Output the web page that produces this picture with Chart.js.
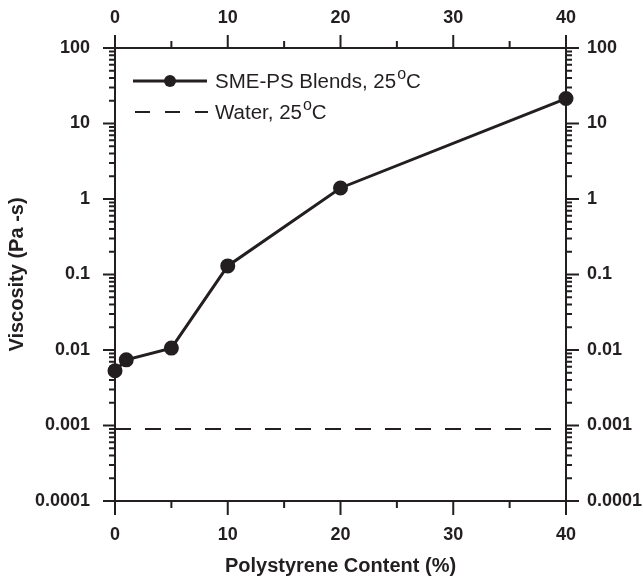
<!DOCTYPE html>
<html>
<head>
<meta charset="utf-8">
<script src="https://cdn.jsdelivr.net/npm/chart.js@4.4.0/dist/chart.umd.min.js"></script>
<style>
  html, body { margin: 0; padding: 0; background: #fff; }
  #wrap { width: 643px; height: 581px; }
</style>
</head>
<body>
<div id="wrap"><canvas id="viscChart" width="643" height="581"></canvas></div>
<script>
// data
const psContent = [0, 1, 5, 10, 20, 40];
const psViscosity = [0.0053, 0.0074, 0.0106, 0.13, 1.4, 21.4];
const waterContent = [0, 40];
const waterViscosity = [0.0009, 0.0009];

const xTicks = [0, 10, 20, 30, 40];
const xMinorTicks = [5, 15, 25, 35];
const yTicks = [0.0001, 0.001, 0.01, 0.1, 1, 10, 100];
const yTickLabels = ['0.0001', '0.001', '0.01', '0.1', '1', '10', '100'];

const INK = '#231f20';
const tickFont = { family: 'Liberation Sans, Arial, sans-serif', size: 18, weight: 'bold' };
const titleFont = { family: 'Liberation Sans, Arial, sans-serif', size: 20, weight: 'bold' };

function toPoints(xs, ys) {
    return xs.map((x, i) => ({ x: x, y: ys[i] }));
}

function fixedSize(w, h) {
    return function(scale) {
        if (w !== null) scale.width = w;
        if (h !== null) scale.height = h;
    };
}

function decadeTicks(scale) {
    scale.ticks = yTicks.map(v => ({ value: v }));
}

function yLabel(value) {
    const i = yTicks.findIndex(v => Math.abs(Math.log10(v) - Math.log10(value)) < 1e-6);
    return i >= 0 ? yTickLabels[i] : '';
}

// tick marks: majors long, minors short, all pointing outward
const tickMarks = {
    id: 'tickMarks',
    afterDraw(chart) {
        const ctx = chart.ctx;
        const a = chart.chartArea;
        const x = chart.scales.x, y = chart.scales.y;
        ctx.save();
        ctx.strokeStyle = INK;
        ctx.lineWidth = 2;
        ctx.beginPath();
        xTicks.forEach(v => {
            const px = x.getPixelForValue(v);
            ctx.moveTo(px, a.bottom); ctx.lineTo(px, a.bottom + 14);
            ctx.moveTo(px, a.top); ctx.lineTo(px, a.top - 13);
        });
        xMinorTicks.forEach(v => {
            const px = x.getPixelForValue(v);
            ctx.moveTo(px, a.bottom); ctx.lineTo(px, a.bottom + 7);
            ctx.moveTo(px, a.top); ctx.lineTo(px, a.top - 7);
        });
        yTicks.forEach((v, i) => {
            const py = y.getPixelForValue(v);
            ctx.moveTo(a.left, py); ctx.lineTo(a.left - 12, py);
            ctx.moveTo(a.right, py); ctx.lineTo(a.right + 13, py);
            if (i < yTicks.length - 1) {
                for (let m = 2; m <= 9; m++) {
                    const pm = y.getPixelForValue(v * m);
                    ctx.moveTo(a.left, pm); ctx.lineTo(a.left - 6, pm);
                    ctx.moveTo(a.right, pm); ctx.lineTo(a.right + 6, pm);
                }
            }
        });
        ctx.stroke();
        ctx.restore();
    }
};

// legend drawn by hand so the superscript o can be set
const legendBox = {
    id: 'legendBox',
    afterDraw(chart) {
        const ctx = chart.ctx;
        ctx.save();
        ctx.strokeStyle = INK;
        ctx.fillStyle = INK;

        ctx.lineWidth = 3;
        ctx.beginPath();
        ctx.moveTo(133, 81); ctx.lineTo(207, 81);
        ctx.stroke();
        ctx.beginPath();
        ctx.arc(170, 81, 6, 0, Math.PI * 2);
        ctx.fill();

        ctx.lineWidth = 2;
        ctx.setLineDash([15, 15]);
        ctx.beginPath();
        ctx.moveTo(135, 112); ctx.lineTo(208, 112);
        ctx.stroke();
        ctx.setLineDash([]);

        drawDegreeText(ctx, 'SME-PS Blends, 25', 215, 88);
        drawDegreeText(ctx, 'Water, 25', 215, 119);
        ctx.restore();
    }
};

function drawDegreeText(ctx, text, x, y) {
    ctx.textBaseline = 'alphabetic';
    ctx.font = '20.5px Liberation Sans, Arial, sans-serif';
    ctx.fillText(text, x, y);
    let px = x + ctx.measureText(text).width;
    ctx.font = '16px Liberation Sans, Arial, sans-serif';
    ctx.fillText('o', px + 1, y - 9);
    px += ctx.measureText('o').width + 1;
    ctx.font = '20.5px Liberation Sans, Arial, sans-serif';
    ctx.fillText('C', px, y);
}

const ctx = document.getElementById('viscChart').getContext('2d');
const viscChart = new Chart(ctx, {
    type: 'line',
    data: {
        datasets: [{
            label: 'SME-PS Blends, 25°C',
            data: toPoints(psContent, psViscosity),
            borderColor: INK,
            backgroundColor: INK,
            borderWidth: 3,
            pointRadius: 6,
            pointHoverRadius: 6,
            tension: 0,
            clip: false
        }, {
            label: 'Water, 25°C',
            data: toPoints(waterContent, waterViscosity),
            borderColor: INK,
            borderWidth: 2,
            borderDash: [16, 14],
            pointRadius: 0,
            tension: 0
        }]
    },
    options: {
        responsive: false,
        animation: false,
        layout: { padding: 0 },
        plugins: {
            legend: { display: false },
            tooltip: { enabled: false }
        },
        scales: {
            x: {
                type: 'linear',
                position: 'bottom',
                min: 0, max: 40,
                afterFit: fixedSize(null, 80),
                afterBuildTicks: s => { s.ticks = xTicks.map(v => ({ value: v })); },
                grid: { display: false },
                border: { display: true, color: INK, width: 2 },
                ticks: { color: INK, font: tickFont, padding: 15, maxRotation: 0 },
                title: {
                    display: true,
                    text: 'Polystyrene Content (%)',
                    color: INK,
                    font: titleFont,
                    padding: { top: 0, bottom: 3 }
                }
            },
            x2: {
                type: 'linear',
                position: 'top',
                min: 0, max: 40,
                afterFit: fixedSize(null, 48),
                afterBuildTicks: s => { s.ticks = xTicks.map(v => ({ value: v })); },
                grid: { display: false },
                border: { display: true, color: INK, width: 2 },
                ticks: { color: INK, font: tickFont, padding: 11, maxRotation: 0 }
            },
            y: {
                type: 'logarithmic',
                position: 'left',
                min: 0.0001, max: 100,
                afterFit: fixedSize(115, null),
                afterBuildTicks: decadeTicks,
                grid: { display: false },
                border: { display: true, color: INK, width: 2 },
                ticks: { color: INK, font: tickFont, padding: 17, callback: yLabel },
                title: {
                    display: true,
                    text: 'Viscosity (Pa -s)',
                    color: INK,
                    font: titleFont,
                    padding: { top: 5, bottom: 0 }
                }
            },
            y2: {
                type: 'logarithmic',
                position: 'right',
                min: 0.0001, max: 100,
                afterFit: fixedSize(77, null),
                afterBuildTicks: decadeTicks,
                grid: { display: false },
                border: { display: true, color: INK, width: 2 },
                ticks: { color: INK, font: tickFont, padding: 13, callback: yLabel }
            }
        }
    },
    plugins: [tickMarks, legendBox]
});
</script>
</body>
</html>
